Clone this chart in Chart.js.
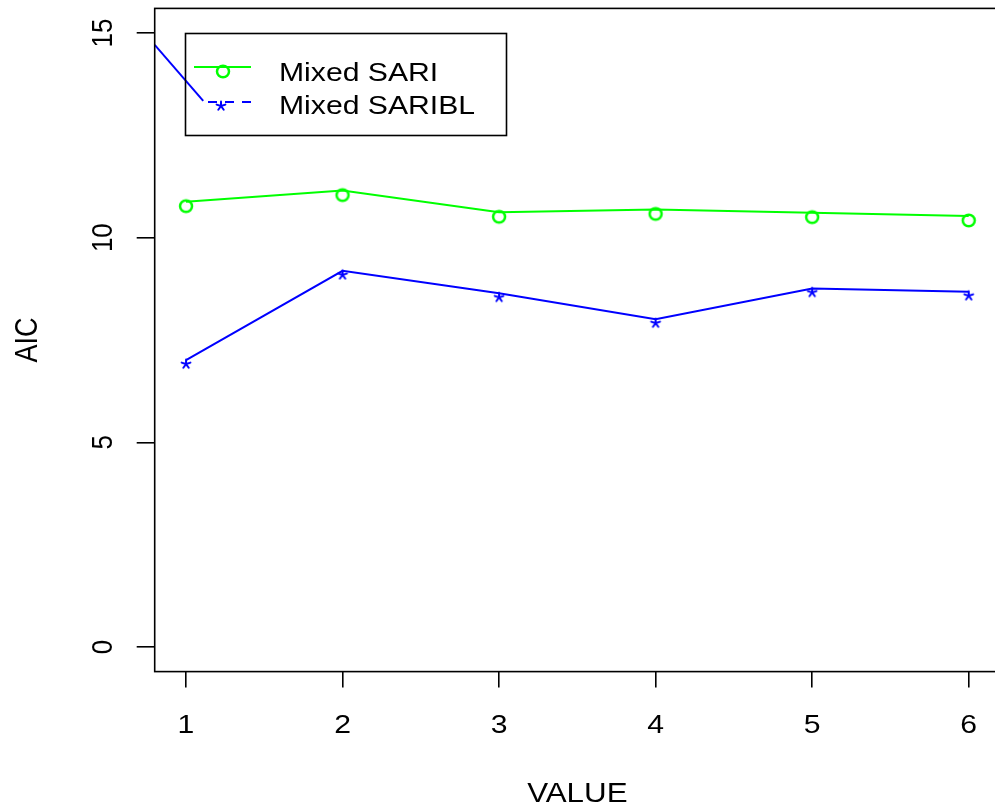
<!DOCTYPE html>
<html>
<head>
<meta charset="utf-8">
<script src="https://cdn.jsdelivr.net/npm/chart.js@4/dist/chart.umd.min.js"></script>
<style>
  html, body { margin: 0; padding: 0; overflow: hidden; background: #fff; }
  canvas { display: block; }
</style>
</head>
<body>
<canvas id="aicChart" width="1010" height="812"></canvas>
<script>
// values
const xValues = [1, 2, 3, 4, 5, 6];
const xTicks = [1, 2, 3, 4, 5, 6];
const yTicks = [0, 5, 10, 15];
const sariValues = [10.88, 11.15, 10.62, 10.69, 10.61, 10.53];
const sariblValues = [7.01, 9.19, 8.64, 8.01, 8.76, 8.68];
// the odd stray segment in the top-left corner
const strayX = [0.8, 1.11];
const strayY = [14.71, 13.34];
const seriesNames = ['Mixed SARI', 'Mixed SARIBL'];
const xTitle = 'VALUE';
const yTitle = 'AIC';

const GREEN = '#00ff00';
const BLUE = '#0000ff';
const FONT = '"Liberation Sans", Arial, sans-serif';
const SX = 1.16; // the original picture is stretched sideways, text too

// R draws pch characters a bit below the vertex, bake that offset into the image
function circleMarker(color) {
  const c = document.createElement('canvas');
  c.width = 24; c.height = 32;
  const g = c.getContext('2d');
  g.strokeStyle = color;
  g.lineWidth = 2.5;
  g.beginPath();
  g.ellipse(12, 20.5, 6.0, 5.8, 0, 0, Math.PI * 2);
  g.stroke();
  return c;
}

function starMarker(color) {
  const c = document.createElement('canvas');
  c.width = 24; c.height = 32;
  const g = c.getContext('2d');
  g.strokeStyle = color;
  g.lineWidth = 2;
  g.lineCap = 'round';
  const cx = 12, cy = 20, r = 4.6;
  // five arms, like the Arial asterisk
  [-90, -18, -162, 54, 126].forEach(a => {
    const rad = a * Math.PI / 180;
    g.beginPath();
    g.moveTo(cx, cy);
    g.lineTo(cx + r * Math.cos(rad), cy + r * Math.sin(rad));
    g.stroke();
  });
  return c;
}

const oMark = circleMarker(GREEN);
const starMark = starMarker(BLUE);

const toPoints = (xs, ys) => xs.map((x, i) => ({ x: x, y: ys[i] }));

// text stretched horizontally around its anchor
function wideText(ctx, text, x, y, rotate) {
  ctx.save();
  ctx.translate(x, y);
  ctx.scale(SX, 1);
  if (rotate) ctx.rotate(-Math.PI / 2);
  ctx.fillText(text, 0, 0);
  ctx.restore();
}

const rPlot = {
  id: 'rPlot',
  afterDraw(chart) {
    const ctx = chart.ctx;
    const a = chart.chartArea;
    const xs = chart.scales.x;
    const ys = chart.scales.y;
    ctx.save();

    // frame
    ctx.strokeStyle = '#000';
    ctx.lineWidth = 1.6;
    ctx.strokeRect(a.left, a.top, a.right - a.left, a.bottom - a.top);

    ctx.fillStyle = '#000';
    ctx.font = '26px ' + FONT;
    ctx.textAlign = 'center';
    ctx.textBaseline = 'alphabetic';

    // tick labels
    xTicks.forEach(v => wideText(ctx, String(v), xs.getPixelForValue(v), 733, false));
    yTicks.forEach(v => wideText(ctx, String(v), 112, ys.getPixelForValue(v), true));

    // axis titles
    ctx.font = '27px ' + FONT;
    wideText(ctx, xTitle, (a.left + a.right) / 2, 802, false);
    wideText(ctx, yTitle, 37, (a.top + a.bottom) / 2, true);

    // legend
    ctx.lineWidth = 1.6;
    ctx.strokeStyle = '#000';
    ctx.strokeRect(185.5, 33.5, 321, 102);

    ctx.lineWidth = 2;
    ctx.strokeStyle = GREEN;
    ctx.beginPath();
    ctx.moveTo(194, 67);
    ctx.lineTo(251, 67);
    ctx.stroke();
    ctx.drawImage(oMark, 223 - 12, 67 - 16);

    ctx.strokeStyle = BLUE;
    ctx.setLineDash([9, 8]);
    ctx.beginPath();
    ctx.moveTo(208, 102);
    ctx.lineTo(251, 102);
    ctx.stroke();
    ctx.setLineDash([]);
    ctx.drawImage(starMark, 221 - 12, 102 - 16);

    ctx.font = '26px ' + FONT;
    ctx.textAlign = 'left';
    wideText(ctx, seriesNames[0], 279, 81, false);
    wideText(ctx, seriesNames[1], 279, 114, false);

    ctx.restore();
  }
};

new Chart(document.getElementById('aicChart'), {
  type: 'scatter',
  data: {
    datasets: [
      {
        label: seriesNames[0],
        data: toPoints(xValues, sariValues),
        showLine: true,
        borderColor: GREEN,
        borderWidth: 2,
        pointStyle: oMark,
        pointRadius: 6,
        tension: 0
      },
      {
        label: seriesNames[1],
        data: toPoints(xValues, sariblValues),
        showLine: true,
        borderColor: BLUE,
        borderWidth: 2,
        pointStyle: starMark,
        pointRadius: 6,
        tension: 0
      },
      {
        label: 'stray',
        data: toPoints(strayX, strayY),
        showLine: true,
        borderColor: BLUE,
        borderWidth: 2,
        pointRadius: 0,
        tension: 0
      }
    ]
  },
  options: {
    responsive: false,
    animation: false,
    layout: { autoPadding: false, padding: { top: 8.4, right: 10, left: 0, bottom: 0 } },
    plugins: {
      legend: { display: false },
      tooltip: { enabled: false }
    },
    scales: {
      x: {
        type: 'linear',
        min: 0.8,
        max: 6.2,
        afterBuildTicks: s => { s.ticks = xTicks.map(v => ({ value: v })); },
        afterFit: s => { s.height = 140.4; },
        border: { display: false },
        grid: { drawOnChartArea: false, drawTicks: true, tickLength: 16, color: '#000', lineWidth: 1.6 },
        ticks: { display: false }
      },
      y: {
        type: 'linear',
        min: -0.6,
        max: 15.6,
        afterBuildTicks: s => { s.ticks = yTicks.map(v => ({ value: v })); },
        afterFit: s => { s.width = 154.7; },
        border: { display: false },
        grid: { drawOnChartArea: false, drawTicks: true, tickLength: 18, color: '#000', lineWidth: 1.6 },
        ticks: { display: false }
      }
    }
  },
  plugins: [rPlot]
});
</script>
</body>
</html>
